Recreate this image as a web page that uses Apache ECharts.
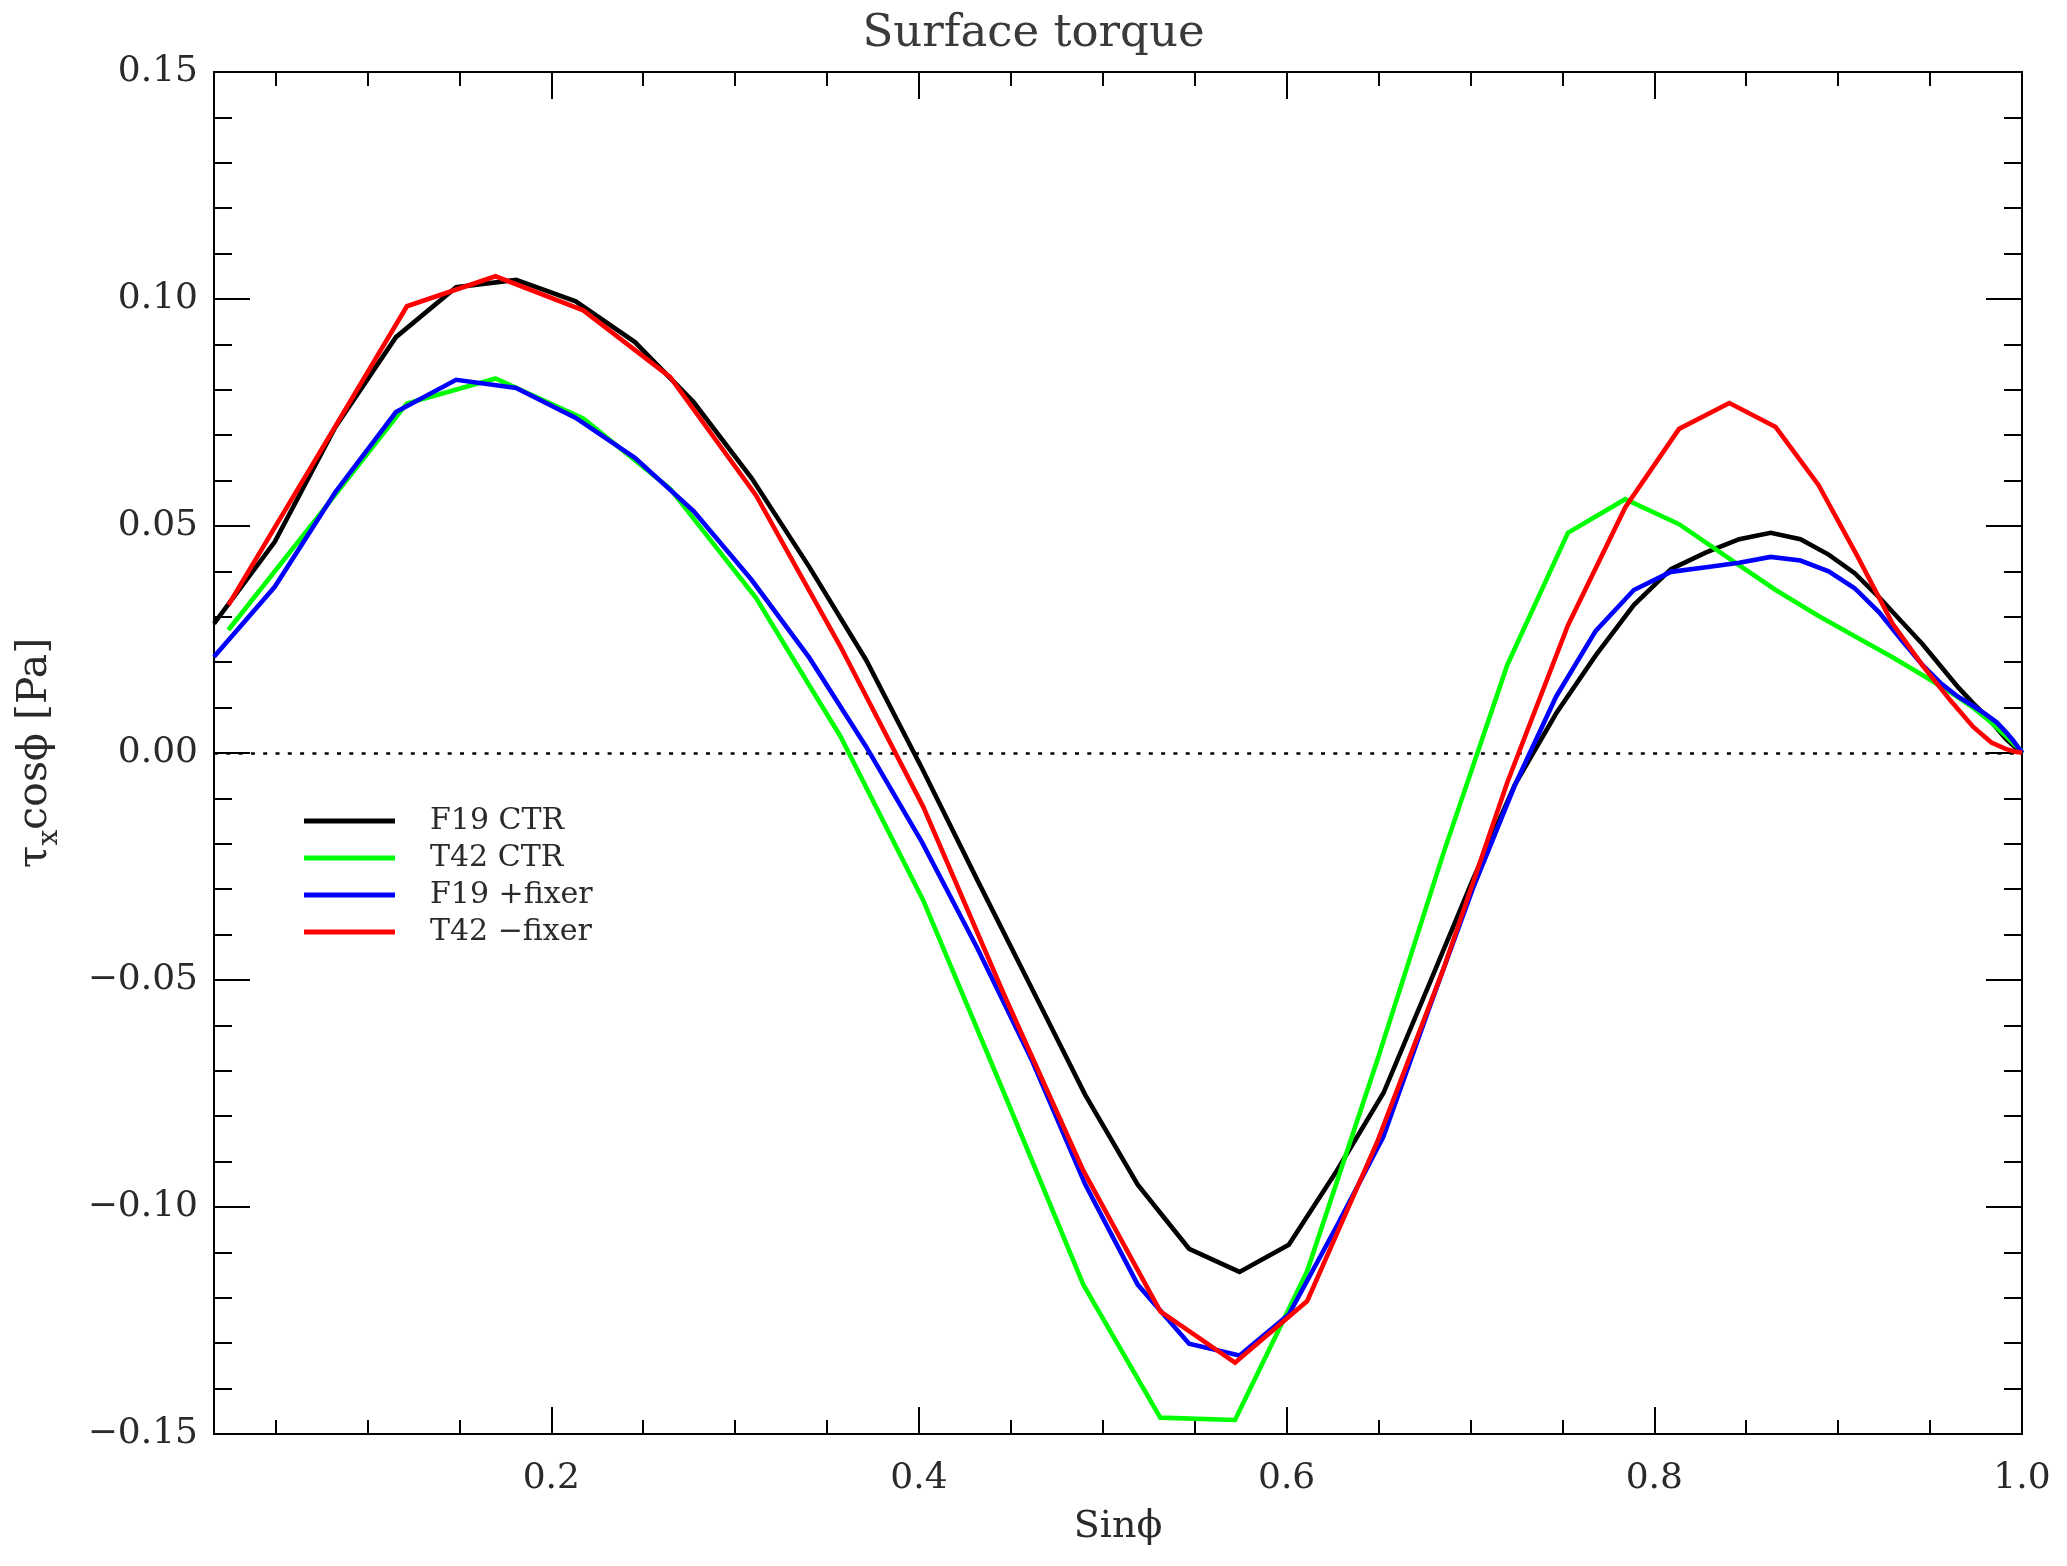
<!DOCTYPE html>
<html>
<head>
<meta charset="utf-8">
<script src="https://cdn.jsdelivr.net/npm/echarts@6/dist/echarts.min.js"></script>
<style>
  html, body { margin: 0; padding: 0; background: #fff; }
  #chart { width: 2067px; height: 1566px; }
</style>
</head>
<body>
<div id="chart"></div>
<script>
// sin(latitude) of the F19 (1.9x2.5) grid points
const xF19 = [0.01653,0.04958,0.08258,0.11549,0.14826,0.18088,0.21329,0.24548,0.27740,0.30902,
  0.34031,0.37124,0.40170,0.43177,0.46134,0.49042,0.51899,0.54694,0.57436,0.60117,
  0.62728,0.65265,0.67728,0.70117,0.72425,0.74656,0.76812,0.78884,0.80902,0.82818,
  0.84620,0.86329,0.87947,0.89481,0.90898,0.92228,0.93458,0.94582,0.95603,0.96521,
  0.97333,0.98037,0.98636,0.99126,0.99508,0.99781,0.99945,1.0];
// sin(latitude) of the T42 Gaussian grid points (+ pole)
const xT42 = [0.02435,0.07300,0.12147,0.16964,0.21740,0.26469,0.31132,0.35723,0.40227,0.44637,
  0.48941,0.53129,0.57192,0.61119,0.64904,0.68534,0.72002,0.75299,0.78416,0.81346,
  0.84082,0.86601,0.88937,0.91052,0.92957,0.94646,0.96102,0.97335,0.98336,0.99104,
  0.99636,0.99930,1.0];

const f19Ctr = [0.0285,0.0465,0.0718,0.0916,0.1026,0.1042,0.0995,0.0905,0.0773,0.0605,
  0.0410,0.0205,-0.0034,-0.0280,-0.0518,-0.0753,-0.0951,-0.1092,-0.1143,-0.1083,
  -0.0920,-0.0749,-0.0512,-0.0280,-0.0069,0.0087,0.0215,0.0326,0.0405,0.0442,
  0.0471,0.0485,0.0471,0.0437,0.0396,0.0343,0.0289,0.0240,0.0190,0.0145,
  0.0110,0.0082,0.0054,0.0031,0.0017,0.0007,0.0002,0.0];
const t42Ctr = [0.0271,0.0520,0.0770,0.0825,0.0737,0.0582,0.0342,0.0037,-0.0324,-0.0750,
  -0.1171,-0.1464,-0.1469,-0.1141,-0.0680,-0.0220,0.0194,0.0485,0.0559,0.0504,
  0.0428,0.0359,0.0302,0.0254,0.0211,0.0170,0.0134,0.0100,0.0067,0.0038,
  0.0017,0.0007,0.0];
const f19Fixer = [0.0212,0.0366,0.0575,0.0751,0.0822,0.0804,0.0738,0.0650,0.0533,0.0381,
  0.0210,0.0014,-0.0197,-0.0430,-0.0676,-0.0950,-0.1171,-0.1301,-0.1327,-0.1237,
  -0.1042,-0.0845,-0.0565,-0.0300,-0.0070,0.0124,0.0269,0.0359,0.0399,0.0409,
  0.0419,0.0432,0.0424,0.0400,0.0363,0.0310,0.0248,0.0194,0.0153,0.0124,
  0.0104,0.0085,0.0067,0.0046,0.0028,0.0013,0.0005,0.0];
const t42Fixer = [0.0326,0.0655,0.0984,0.1050,0.0975,0.0828,0.0568,0.0235,-0.0118,-0.0533,
  -0.0920,-0.1230,-0.1343,-0.1207,-0.0859,-0.0475,-0.0065,0.0281,0.0541,0.0714,
  0.0771,0.0718,0.0590,0.0433,0.0285,0.0190,0.0116,0.0058,0.0023,0.0009,
  0.0003,0.0001,0.0];

const seriesNames = ['F19 CTR', 'T42 CTR', 'F19 +fixer', 'T42 \u2212fixer'];
const xMajorTicks = [0.2, 0.4, 0.6, 0.8, 1.0];
const xMinorTicks = [0.05,0.10,0.15,0.25,0.30,0.35,0.45,0.50,0.55,0.65,0.70,0.75,0.85,0.90,0.95];
const titleText = 'Surface torque';
const xName = 'Sin\u03d5';

const FONT = 'DejaVu Serif';
const TXT = '#2a2a2a';
const X_MIN = xF19[0], X_MAX = 1.0;

function pairs(xs, ys) { return xs.map((x, i) => [x, ys[i]]); }

function xAxisDef(pos, ticks, len, withLabel, withLine) {
  return {
    type: 'value', position: pos, min: X_MIN, max: X_MAX,
    axisLine: { show: withLine, onZero: false, lineStyle: { color: '#000', width: 2 } },
    axisTick: { show: true, inside: true, length: len, customValues: ticks,
      lineStyle: { color: '#000', width: 2 } },
    axisLabel: withLabel ? {
      show: true, customValues: xMajorTicks, margin: 27,
      fontFamily: FONT, fontSize: 36, lineHeight: 36, color: TXT,
      formatter: v => Number(v).toFixed(1)
    } : { show: false },
    splitLine: { show: false },
    name: withLabel ? xName : '',
    nameLocation: 'middle', nameGap: 74,
    nameTextStyle: { fontFamily: FONT, fontSize: 38, lineHeight: 38, color: TXT }
  };
}

function yAxisDef(pos, withLabel) {
  return {
    type: 'value', position: pos, min: -0.15, max: 0.15, interval: 0.05,
    axisLine: { show: true, onZero: false, lineStyle: { color: '#000', width: 2 } },
    axisTick: { show: true, inside: true, length: 36, lineStyle: { color: '#000', width: 2 } },
    minorTick: { show: true, splitNumber: 5, length: 18, lineStyle: { color: '#000', width: 2 } },
    axisLabel: withLabel ? {
      show: true, margin: 16, fontFamily: FONT, fontSize: 36, color: TXT,
      showMinLabel: true, showMaxLabel: true,
      formatter: v => Number(v).toFixed(2).replace('-', '\u2212')
    } : { show: false },
    splitLine: { show: false }, minorSplitLine: { show: false },
    name: withLabel ? '{a|\u03c4}{b|x}{a|cos\u03d5 [Pa]}' : '',
    nameLocation: 'middle', nameRotate: 90, nameGap: 150,
    nameTextStyle: {
      fontFamily: FONT, fontSize: 41, color: TXT,
      rich: {
        a: { fontFamily: FONT, fontSize: 41, color: TXT, lineHeight: 58, verticalAlign: 'middle' },
        b: { fontFamily: FONT, fontSize: 28, color: TXT, lineHeight: 28, verticalAlign: 'bottom' }
      }
    }
  };
}

const colors = ['#000000', '#00ff00', '#0000ff', '#ff0000'];
const dataSets = [pairs(xF19, f19Ctr), pairs(xT42, t42Ctr), pairs(xF19, f19Fixer), pairs(xT42, t42Fixer)];

const series = dataSets.map((d, i) => ({
  name: seriesNames[i], type: 'line', data: d, xAxisIndex: 0, yAxisIndex: 0,
  showSymbol: false, symbol: 'none', smooth: false, z: 3 + i,
  lineStyle: { color: colors[i], width: 4.6, join: 'miter' }, itemStyle: { color: colors[i] },
  emphasis: { disabled: true }
}));
series[0].markLine = {
  silent: true, symbol: ['none', 'none'], animation: false,
  label: { show: false },
  lineStyle: { color: '#000', type: [4, 8.3], width: 2.7 },
  emphasis: { disabled: true },
  data: [{ yAxis: 0 }]
};

const chart = echarts.init(document.getElementById('chart'), null, { renderer: 'canvas' });
chart.setOption({
  animation: false,
  backgroundColor: '#ffffff',
  title: {
    text: titleText, left: 'center', top: 10, padding: 0,
    textStyle: { fontFamily: FONT, fontSize: 45, lineHeight: 48, fontWeight: 'normal', color: '#3a3a3a' }
  },
  grid: { left: 214, right: 45, top: 72, bottom: 132, containLabel: false },
  legend: {
    data: seriesNames, orient: 'vertical', left: 304, top: 806, padding: 0,
    icon: 'rect', itemWidth: 91, itemHeight: 5, itemGap: 7,
    selectedMode: false,
    textStyle: { fontFamily: FONT, fontSize: 30, lineHeight: 30, color: TXT, padding: [0, 0, 0, 30] }
  },
  xAxis: [
    xAxisDef('bottom', xMajorTicks, 27, true, true),
    xAxisDef('bottom', xMinorTicks, 14, false, false),
    xAxisDef('top', xMajorTicks, 27, false, true),
    xAxisDef('top', xMinorTicks, 14, false, false)
  ],
  yAxis: [yAxisDef('left', true), yAxisDef('right', false)],
  series: series
});
</script>
</body>
</html>
